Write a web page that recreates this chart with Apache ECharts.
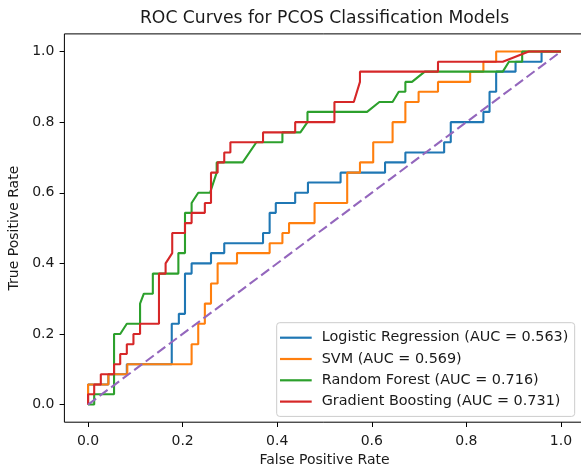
<!DOCTYPE html>
<html><head><meta charset="utf-8">
<script src="https://cdn.jsdelivr.net/npm/echarts@6/dist/echarts.min.js"></script>
<style>html,body{margin:0;padding:0;background:#fff}#c{width:581px;height:466px}</style>
</head><body><div id="c"></div>
<script>
const tickValues = [0, 0.2, 0.4, 0.6, 0.8, 1.0];
const seriesNames = [
  'Logistic Regression (AUC = 0.563)',
  'SVM (AUC = 0.569)',
  'Random Forest (AUC = 0.716)',
  'Gradient Boosting (AUC = 0.731)'
];
const seriesColors = ['#1f77b4', '#ff7f0e', '#2ca02c', '#d62728'];

const fprLR = [0,0,0.043,0.043,0.082,0.082,0.177,0.177,0.192,0.192,0.205,0.205,0.219,0.219,0.260,0.260,0.288,0.288,0.370,0.370,0.384,0.384,0.397,0.397,0.438,0.438,0.465,0.465,0.534,0.534,0.628,0.628,0.671,0.671,0.753,0.753,0.767,0.767,0.836,0.836,0.849,0.849,0.863,0.863,0.904,0.904,0.959,0.959,1.0];
const tprLR = [0,0.057,0.057,0.086,0.086,0.114,0.114,0.229,0.229,0.257,0.257,0.371,0.371,0.4,0.4,0.429,0.429,0.457,0.457,0.486,0.486,0.543,0.543,0.571,0.571,0.6,0.6,0.629,0.629,0.657,0.657,0.686,0.686,0.714,0.714,0.743,0.743,0.8,0.8,0.829,0.829,0.886,0.886,0.943,0.943,0.971,0.971,1.0,1.0];

const fprSVM = [0,0,0.043,0.043,0.083,0.083,0.219,0.219,0.233,0.233,0.247,0.247,0.260,0.260,0.274,0.274,0.315,0.315,0.384,0.384,0.411,0.411,0.425,0.425,0.479,0.479,0.548,0.548,0.575,0.575,0.603,0.603,0.644,0.644,0.671,0.671,0.699,0.699,0.740,0.740,0.808,0.808,0.836,0.836,0.863,0.863,1.0];
const tprSVM = [0,0.057,0.057,0.086,0.086,0.114,0.114,0.171,0.171,0.229,0.229,0.286,0.286,0.343,0.343,0.4,0.4,0.429,0.429,0.457,0.457,0.486,0.486,0.514,0.514,0.571,0.571,0.657,0.657,0.686,0.686,0.743,0.743,0.8,0.8,0.857,0.857,0.886,0.886,0.914,0.914,0.943,0.943,0.971,0.971,1.0,1.0];

const fprRF = [0,0.013,0.013,0.055,0.055,0.068,0.082,0.110,0.110,0.118,0.137,0.137,0.191,0.191,0.205,0.205,0.219,0.219,0.233,0.258,0.272,0.272,0.327,0.356,0.411,0.411,0.449,0.464,0.464,0.590,0.616,0.644,0.657,0.671,0.671,0.685,0.712,0.877,0.890,0.918,0.918,1.0];
const tprRF = [0,0,0.029,0.029,0.2,0.2,0.229,0.229,0.286,0.314,0.314,0.371,0.371,0.429,0.429,0.543,0.543,0.571,0.6,0.6,0.657,0.686,0.686,0.743,0.743,0.771,0.771,0.8,0.829,0.829,0.857,0.857,0.886,0.886,0.914,0.914,0.943,0.943,0.971,0.971,1.0,1.0];

const fprGB = [0,0,0.013,0.013,0.027,0.027,0.055,0.055,0.068,0.068,0.082,0.082,0.096,0.096,0.110,0.110,0.150,0.150,0.164,0.164,0.178,0.178,0.205,0.205,0.219,0.219,0.247,0.247,0.260,0.260,0.274,0.274,0.288,0.288,0.301,0.301,0.370,0.370,0.438,0.438,0.521,0.521,0.562,0.575,0.575,0.740,0.740,0.877,0.932,1.0];
const tprGB = [0,0.029,0.029,0.057,0.057,0.086,0.086,0.114,0.114,0.143,0.143,0.171,0.171,0.2,0.2,0.229,0.229,0.371,0.371,0.4,0.429,0.486,0.486,0.514,0.514,0.543,0.543,0.571,0.571,0.657,0.657,0.686,0.686,0.714,0.714,0.743,0.743,0.771,0.771,0.8,0.8,0.857,0.857,0.914,0.943,0.943,0.971,0.971,1.0,1.0];

const chanceX = [0, 1];
const chanceY = [0, 1];

const fprs = [fprLR, fprSVM, fprRF, fprGB];
const tprs = [tprLR, tprSVM, tprRF, tprGB];
const pairs = (xs, ys) => xs.map((x, i) => [x, ys[i]]);

const FONT = 'DejaVu Sans';
const series = seriesNames.map((name, k) => ({
  name, type: 'line', data: pairs(fprs[k], tprs[k]),
  symbol: 'none', color: seriesColors[k],
  lineStyle: { width: 2.1, color: seriesColors[k] },
  animation: false, z: 2 + k
}));
series.push({
  name: 'chance', type: 'line', data: pairs(chanceX, chanceY),
  symbol: 'none', color: '#9467bd',
  lineStyle: { width: 2.1, color: '#9467bd', type: [10, 4.4] },
  animation: false, z: 10
});

const axisCommon = {
  type: 'value', min: -0.05, max: 1.05,
  splitLine: { show: false },
  axisLine: { show: false, onZero: false },
  axisTick: { show: true, customValues: tickValues, length: 4.8, lineStyle: { color: '#000', width: 1 } },
  axisLabel: { customValues: tickValues, formatter: v => v.toFixed(1), color: '#1a1a1a', fontFamily: FONT, fontSize: 14 },
  nameLocation: 'middle',
  nameTextStyle: { color: '#1a1a1a', fontFamily: FONT, fontSize: 14 }
};

const chart = echarts.init(document.getElementById('c'), null, { renderer: 'canvas' });
chart.setOption({
  animation: false,
  backgroundColor: '#fff',
  title: {
    text: 'ROC Curves for PCOS Classification Models',
    left: 324.5, top: 10.5, textAlign: 'center', padding: 0,
    textStyle: { fontFamily: FONT, fontSize: 17.2, fontWeight: 'normal', color: '#1a1a1a' }
  },
  grid: {
    left: 64.4, top: 33.9, right: -3.6, bottom: 43.8,
    containLabel: false, outerBoundsMode: 'none',
    show: true, borderColor: '#000', borderWidth: 1, backgroundColor: 'transparent'
  },
  xAxis: Object.assign({}, axisCommon, {
    name: 'False Positive Rate', nameGap: 31,
    axisLabel: Object.assign({}, axisCommon.axisLabel, { margin: 12.5 })
  }),
  yAxis: Object.assign({}, axisCommon, {
    name: 'True Positive Rate', nameGap: 36,
    axisLabel: Object.assign({}, axisCommon.axisLabel, { margin: 10 })
  }),
  legend: {
    data: seriesNames.map(n => ({ name: n, icon: 'rect' })),
    orient: 'vertical',
    left: 276.7, top: 322.7,
    padding: [8, 6.3, 7.8, 3.3],
    itemWidth: 31.7, itemHeight: 2.2, itemGap: 7.3,
    backgroundColor: 'rgba(255,255,255,0.8)', borderColor: '#cccccc', borderWidth: 1, borderRadius: 3,
    textStyle: { fontFamily: FONT, fontSize: 14.4, color: '#1a1a1a', padding: [0, 0, 0, 5], width: 248, overflow: 'none' }
  },
  series
});
</script></body></html>
